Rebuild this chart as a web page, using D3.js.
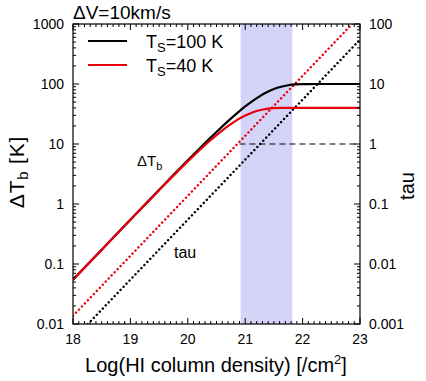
<!DOCTYPE html>
<html><head><meta charset="utf-8">
<script src="https://cdn.jsdelivr.net/npm/d3@7"></script>
<style>
body{margin:0;background:#fff;}
text{font-family:"Liberation Sans",Arial,Helvetica,sans-serif;fill:#000;}
</style></head>
<body><svg id="c" width="426" height="381"></svg>
<script>
// ---- data ----
const logN   = [18, 18.5, 19, 19.5, 20, 20.25, 20.375, 20.5, 20.625, 20.75, 20.875, 21, 21.125, 21.25, 21.375, 21.5, 21.625, 21.75, 21.875, 22, 22.25, 22.5, 23];
const dTb100 = [0.0548, 0.173, 0.547, 1.72, 5.34, 9.29, 12.2, 15.9, 20.65, 26.5, 33.7, 42.2, 51.9, 62.3, 72.8, 82.4, 90.1, 95.4, 98.4, 99.6, 99.99, 100, 100];
const dTb40  = [0.0548, 0.173, 0.545, 1.70, 5.13, 8.66, 11.1, 14.1, 17.6, 21.5, 25.7, 29.9, 33.6, 36.5, 38.45, 39.5, 39.9, 40.0, 40, 40, 40, 40, 40];
const tauN   = [18, 23];
const tau100 = [0.000549, 54.9];
const tau40  = [0.00137, 137];
const band   = [20.92, 21.82];
const tauOneFrom = 20.9;
const xTicks = [18, 19, 20, 21, 22, 23];
const yTicksL = [0.01, 0.1, 1, 10, 100, 1000];
const yTicksR = [0.001, 0.01, 0.1, 1, 10, 100];

const svg = d3.select("#c");
const L = 73, R = 360, T = 24, B = 324;
const x = d3.scaleLinear().domain([18, 23]).range([L, R]);
const yL = d3.scaleLog().domain([0.01, 1000]).range([B, T]);
const yR = d3.scaleLog().domain([0.001, 100]).range([B, T]);

svg.append("defs").append("clipPath").attr("id","clip")
  .append("rect").attr("x",L).attr("y",T).attr("width",R-L).attr("height",B-T);

// band
svg.append("rect").attr("x", x(band[0])).attr("y", T)
  .attr("width", x(band[1]) - x(band[0])).attr("height", B - T)
  .attr("fill", "#d4d4f8");

const g = svg.append("g").attr("clip-path","url(#clip)");

// dashed tau=1
g.append("line").attr("x1", x(tauOneFrom)).attr("x2", x(23))
  .attr("y1", yR(1)).attr("y2", yR(1))
  .attr("stroke","#000").attr("stroke-width",1.2).attr("stroke-dasharray","6,4");

const lineTau = d3.line().x((d,i)=>x(tauN[i])).y(d=>yR(d));
g.append("path").attr("d", lineTau(tau100)).attr("fill","none").attr("stroke","#000")
  .attr("stroke-width",2.4).attr("stroke-linecap","round").attr("stroke-dasharray","0.1,4.2");
g.append("path").attr("d", lineTau(tau40)).attr("fill","none").attr("stroke","#e8000b")
  .attr("stroke-width",2.4).attr("stroke-linecap","round").attr("stroke-dasharray","0.1,4.2");

const lineT = d3.line().x((d,i)=>x(logN[i])).y(d=>yL(d)).curve(d3.curveMonotoneX);
g.append("path").attr("d", lineT(dTb100)).attr("fill","none").attr("stroke","#000").attr("stroke-width",2.2);
g.append("path").attr("d", lineT(dTb40)).attr("fill","none").attr("stroke","#e8000b").attr("stroke-width",2.2);

// frame
svg.append("rect").attr("x",L).attr("y",T).attr("width",R-L).attr("height",B-T)
  .attr("fill","none").attr("stroke","#000").attr("stroke-width",1.2);

// ticks
const tk = svg.append("g").attr("stroke","#000").attr("stroke-width",1);
d3.range(180, 231).forEach(k => {
  const v = k/10, major = k % 10 === 0, len = major ? 6 : 3;
  tk.append("line").attr("x1",x(v)).attr("x2",x(v)).attr("y1",B).attr("y2",B-len);
  tk.append("line").attr("x1",x(v)).attr("x2",x(v)).attr("y1",T).attr("y2",T+len);
});
function logTicks(scale, lo, hi, xpos, dir){
  for (let e = lo; e < hi; e++) {
    for (let m = 1; m < 10; m++) {
      const v = m * Math.pow(10, e);
      const len = m === 1 ? 6 : 3;
      tk.append("line").attr("x1",xpos).attr("x2",xpos+dir*len).attr("y1",scale(v)).attr("y2",scale(v));
    }
  }
  tk.append("line").attr("x1",xpos).attr("x2",xpos+dir*6).attr("y1",scale(Math.pow(10,hi))).attr("y2",scale(Math.pow(10,hi)));
}
logTicks(yL, -2, 3, L, 1);
logTicks(yR, -3, 2, R, -1);

// tick labels
svg.append("g").selectAll("text").data(xTicks).join("text")
  .attr("x", d=>x(d)).attr("y", 344).attr("text-anchor","middle").attr("font-size",14).text(d=>d);
svg.append("g").selectAll("text").data(yTicksL).join("text")
  .attr("x", 64).attr("y", d=>yL(d)+5).attr("text-anchor","end").attr("font-size",14).text(d=>d);
svg.append("g").selectAll("text").data(yTicksR).join("text")
  .attr("x", 369).attr("y", d=>yR(d)+5).attr("text-anchor","start").attr("font-size",14).text(d=>d);

// titles
svg.append("text").attr("x",73).attr("y",19).attr("font-size",19).text("ΔV=10km/s");
const xl = svg.append("text").attr("x",216).attr("y",372).attr("text-anchor","middle").attr("font-size",20);
xl.append("tspan").text("Log(HI column density) [/cm");
xl.append("tspan").attr("font-size",13).attr("dy",-8).text("2");
xl.append("tspan").attr("dy",8).text("]");

const yl = svg.append("text").attr("transform","translate(24,172) rotate(-90)")
  .attr("text-anchor","middle").attr("font-size",21).attr("letter-spacing",0.8);
yl.append("tspan").text("ΔT");
yl.append("tspan").attr("font-size",15).attr("dy",4).text("b");
yl.append("tspan").attr("dy",-4).text(" [K]");

svg.append("text").attr("transform","translate(414,186) rotate(-90)")
  .attr("text-anchor","middle").attr("font-size",20).text("tau");

// annotations
const an = svg.append("text").attr("x",137).attr("y",166).attr("font-size",15);
an.append("tspan").text("ΔT");
an.append("tspan").attr("font-size",11).attr("dy",4).text("b");
svg.append("text").attr("x",174).attr("y",258).attr("font-size",16).text("tau");

// legend
const leg = [{c:"#000", t:"100 K", y:41}, {c:"#e8000b", t:"40 K", y:65}];
leg.forEach(l => {
  svg.append("line").attr("x1",88).attr("x2",127).attr("y1",l.y).attr("y2",l.y)
    .attr("stroke",l.c).attr("stroke-width",2.2);
  const t = svg.append("text").attr("x",146).attr("y",l.y+7).attr("font-size",18);
  t.append("tspan").text("T");
  t.append("tspan").attr("font-size",13).attr("dy",4).text("S");
  t.append("tspan").attr("dy",-4).text("=" + l.t);
});
</script></body></html>
